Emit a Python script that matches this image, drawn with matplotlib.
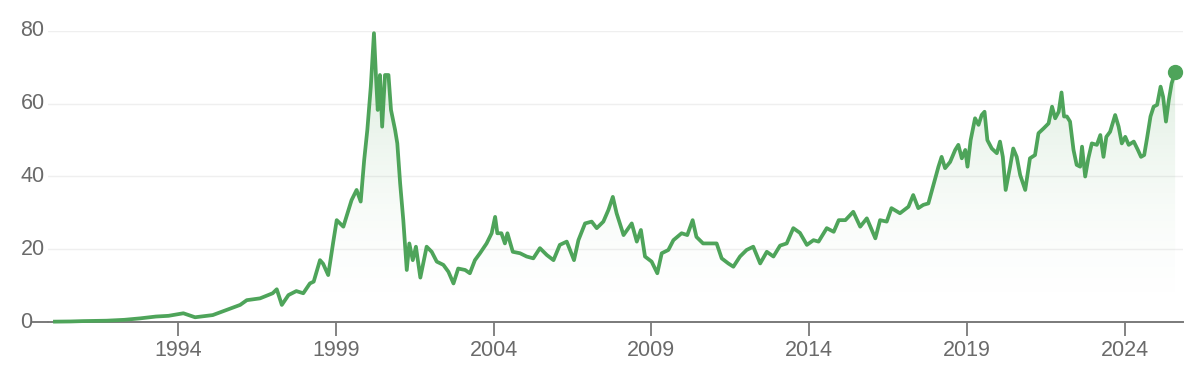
import numpy as np
import matplotlib
matplotlib.use("Agg")
import matplotlib.pyplot as plt
from matplotlib.patches import Polygon

plt.rcParams["font.family"] = ["Liberation Sans", "DejaVu Sans"]

# Price history (decimal year, price)
years = [1990.10, 1990.6, 1991.0, 1991.74, 1992.3, 1992.8, 1993.3, 1993.7, 1994.17, 1994.54,
         1995.1, 1995.54, 1995.97, 1996.18, 1996.6, 1997.0, 1997.13, 1997.29, 1997.5, 1997.75,
         1997.97, 1998.18, 1998.3, 1998.5, 1998.6, 1998.76, 1998.92, 1999.03, 1999.24, 1999.5,
         1999.66, 1999.79, 1999.9, 2000.0, 2000.11, 2000.21, 2000.28, 2000.33, 2000.4, 2000.47,
         2000.56, 2000.67, 2000.75, 2000.88, 2000.95, 2001.04, 2001.14, 2001.25, 2001.33, 2001.44,
         2001.54, 2001.68, 2001.88, 2002.04, 2002.2, 2002.41, 2002.57, 2002.73, 2002.88, 2003.1,
         2003.25, 2003.41, 2003.57, 2003.78, 2003.94, 2004.05, 2004.12, 2004.25, 2004.36, 2004.44,
         2004.61, 2004.84, 2005.05, 2005.26, 2005.47, 2005.69, 2005.9, 2006.1, 2006.32, 2006.55,
         2006.69, 2006.9, 2007.11, 2007.27, 2007.48, 2007.64, 2007.78, 2007.9, 2008.12, 2008.38,
         2008.54, 2008.67, 2008.8, 2009.01, 2009.19, 2009.33, 2009.54, 2009.7, 2009.96, 2010.14,
         2010.31, 2010.43, 2010.64, 2010.86, 2011.07, 2011.23, 2011.44, 2011.6, 2011.81, 2012.02,
         2012.23, 2012.45, 2012.66, 2012.87, 2013.08, 2013.29, 2013.5, 2013.71, 2013.93, 2014.14,
         2014.3, 2014.56, 2014.78, 2014.94, 2015.15, 2015.4, 2015.62, 2015.83, 2016.1, 2016.25,
         2016.46, 2016.61, 2016.88, 2017.15, 2017.3, 2017.46, 2017.62, 2017.78, 2017.94, 2018.1,
         2018.2, 2018.31, 2018.47, 2018.63, 2018.73, 2018.84, 2018.95, 2019.02, 2019.12, 2019.26,
         2019.37, 2019.47, 2019.56, 2019.65, 2019.79, 2019.95, 2020.05, 2020.14, 2020.23, 2020.37,
         2020.47, 2020.58, 2020.69, 2020.85, 2021.0, 2021.16, 2021.27, 2021.43, 2021.59, 2021.7,
         2021.8, 2021.91, 2022.0, 2022.08, 2022.17, 2022.27, 2022.38, 2022.48, 2022.59, 2022.65,
         2022.75, 2022.85, 2022.96, 2023.12, 2023.23, 2023.33, 2023.42, 2023.54, 2023.7, 2023.81,
         2023.91, 2024.02, 2024.13, 2024.29, 2024.42, 2024.52, 2024.62, 2024.71, 2024.82, 2024.92,
         2025.03, 2025.14, 2025.22, 2025.31, 2025.4, 2025.49, 2025.6]
prices = [0.1, 0.15, 0.25, 0.36, 0.6, 1.0, 1.5, 1.7, 2.4, 1.3,
          1.9, 3.3, 4.7, 6.0, 6.5, 7.9, 9.0, 4.7, 7.4, 8.5,
          7.9, 10.6, 11.1, 17.0, 16.0, 12.9, 22.0, 28.0, 26.2, 33.5,
          36.3, 33.1, 44.5, 52.8, 64.7, 79.4, 66.5, 58.3, 67.9, 53.7,
          67.9, 67.9, 58.3, 52.8, 49.1, 38.1, 28.0, 14.3, 21.6, 17.0,
          20.7, 12.2, 20.7, 19.3, 16.6, 15.7, 13.8, 10.6, 14.7, 14.3,
          13.4, 17.0, 18.9, 21.6, 24.4, 28.9, 24.4, 24.4, 21.6, 24.4,
          19.3, 18.9, 18.0, 17.5, 20.3, 18.4, 17.0, 21.2, 22.1, 17.0,
          22.5, 27.1, 27.6, 25.8, 27.6, 30.8, 34.4, 29.9, 23.9, 27.1,
          22.1, 25.3, 18.0, 16.6, 13.4, 18.9, 19.8, 22.5, 24.4, 23.9,
          28.0, 23.4, 21.6, 21.6, 21.6, 17.5, 16.1, 15.2, 18.0, 19.8,
          20.7, 16.1, 19.3, 18.0, 21.0, 21.6, 25.8, 24.5, 21.2, 22.5,
          22.1, 25.8, 24.8, 28.0, 28.0, 30.3, 26.2, 28.5, 23.0, 28.0,
          27.6, 31.3, 29.9, 31.7, 34.9, 31.3, 32.2, 32.6, 37.7, 42.7,
          45.4, 42.3, 44.0, 47.3, 48.7, 45.0, 47.3, 42.7, 50.0, 56.0,
          54.2, 56.9, 57.8, 50.0, 47.7, 46.4, 49.6, 45.4, 36.3, 42.7,
          47.7, 45.4, 40.4, 36.3, 45.0, 45.9, 51.9, 53.2, 54.6, 59.2,
          56.0, 57.8, 63.1, 56.5, 56.5, 55.1, 47.3, 43.2, 42.7, 48.2,
          40.0, 45.0, 49.1, 48.7, 51.4, 45.4, 50.9, 52.3, 56.9, 53.7,
          49.1, 50.9, 48.7, 49.6, 47.3, 45.4, 45.9, 50.5, 56.5, 59.2,
          59.7, 64.7, 61.9, 55.1, 61.0, 65.6, 68.7]

ytick_vals = [0, 20, 40, 60, 80]
xtick_vals = [1994, 1999, 2004, 2009, 2014, 2019, 2024]

line_col = "#4ea45a"
text_col = "#6a6a6a"
axis_col = "#7a7a7a"

fig = plt.figure(figsize=(12, 3.67), dpi=100)
ax = fig.add_axes([48 / 1200, 45 / 367, 1135 / 1200, 291 / 367])

x0, x1 = 1989.88, 2025.85
ax.set_xlim(x0, x1)
ax.set_ylim(0, 80)

# light horizontal gridlines
for v in ytick_vals[1:]:
    ax.axhline(v, color="#efefef", lw=1, zorder=0)

# gradient under the line, clipped to the area below the price
# (fades out quickly toward the baseline)
grad = np.zeros((256, 1, 4))
grad[:, 0, 0] = 0.31
grad[:, 0, 1] = 0.64
grad[:, 0, 2] = 0.35
grad[:, 0, 3] = 0.24 * np.linspace(1.0, 0.0, 256) ** 1.8
im = ax.imshow(grad, extent=[years[0], years[-1], 0, 80], aspect="auto",
               origin="upper", zorder=1, interpolation="bilinear")
poly = Polygon(np.column_stack([[years[0]] + years + [years[-1]], [0] + prices + [0]]),
               closed=True, facecolor="none", edgecolor="none", transform=ax.transData)
ax.add_patch(poly)
im.set_clip_path(poly)

ax.plot(years, prices, color=line_col, lw=2.7, zorder=3, clip_on=False, solid_joinstyle="round")
ax.plot(years[-1], prices[-1], "o", color=line_col, ms=10, zorder=4, clip_on=False)

# axis styling
for s in ["top", "right", "left"]:
    ax.spines[s].set_visible(False)
ax.spines["bottom"].set_color(axis_col)
ax.spines["bottom"].set_linewidth(1.4)
ax.plot([-0.013, 0], [0, 0], transform=ax.transAxes, color=axis_col, lw=1.4, clip_on=False)

ax.set_yticks([])
ax.set_xticks(xtick_vals)
ax.set_xticklabels([str(v) for v in xtick_vals])
ax.tick_params(axis="x", length=10, width=1.3, color=axis_col, labelcolor=text_col,
               labelsize=15.5, pad=3)

# y labels placed by hand ("0" sits left of the baseline)
for v in ytick_vals:
    xpos = -0.0135 if v == 0 else -0.003
    ax.text(xpos, v, str(v), transform=ax.get_yaxis_transform(), ha="right", va="center",
            fontsize=15.5, color=text_col)

fig.savefig("out.png", dpi=100)
